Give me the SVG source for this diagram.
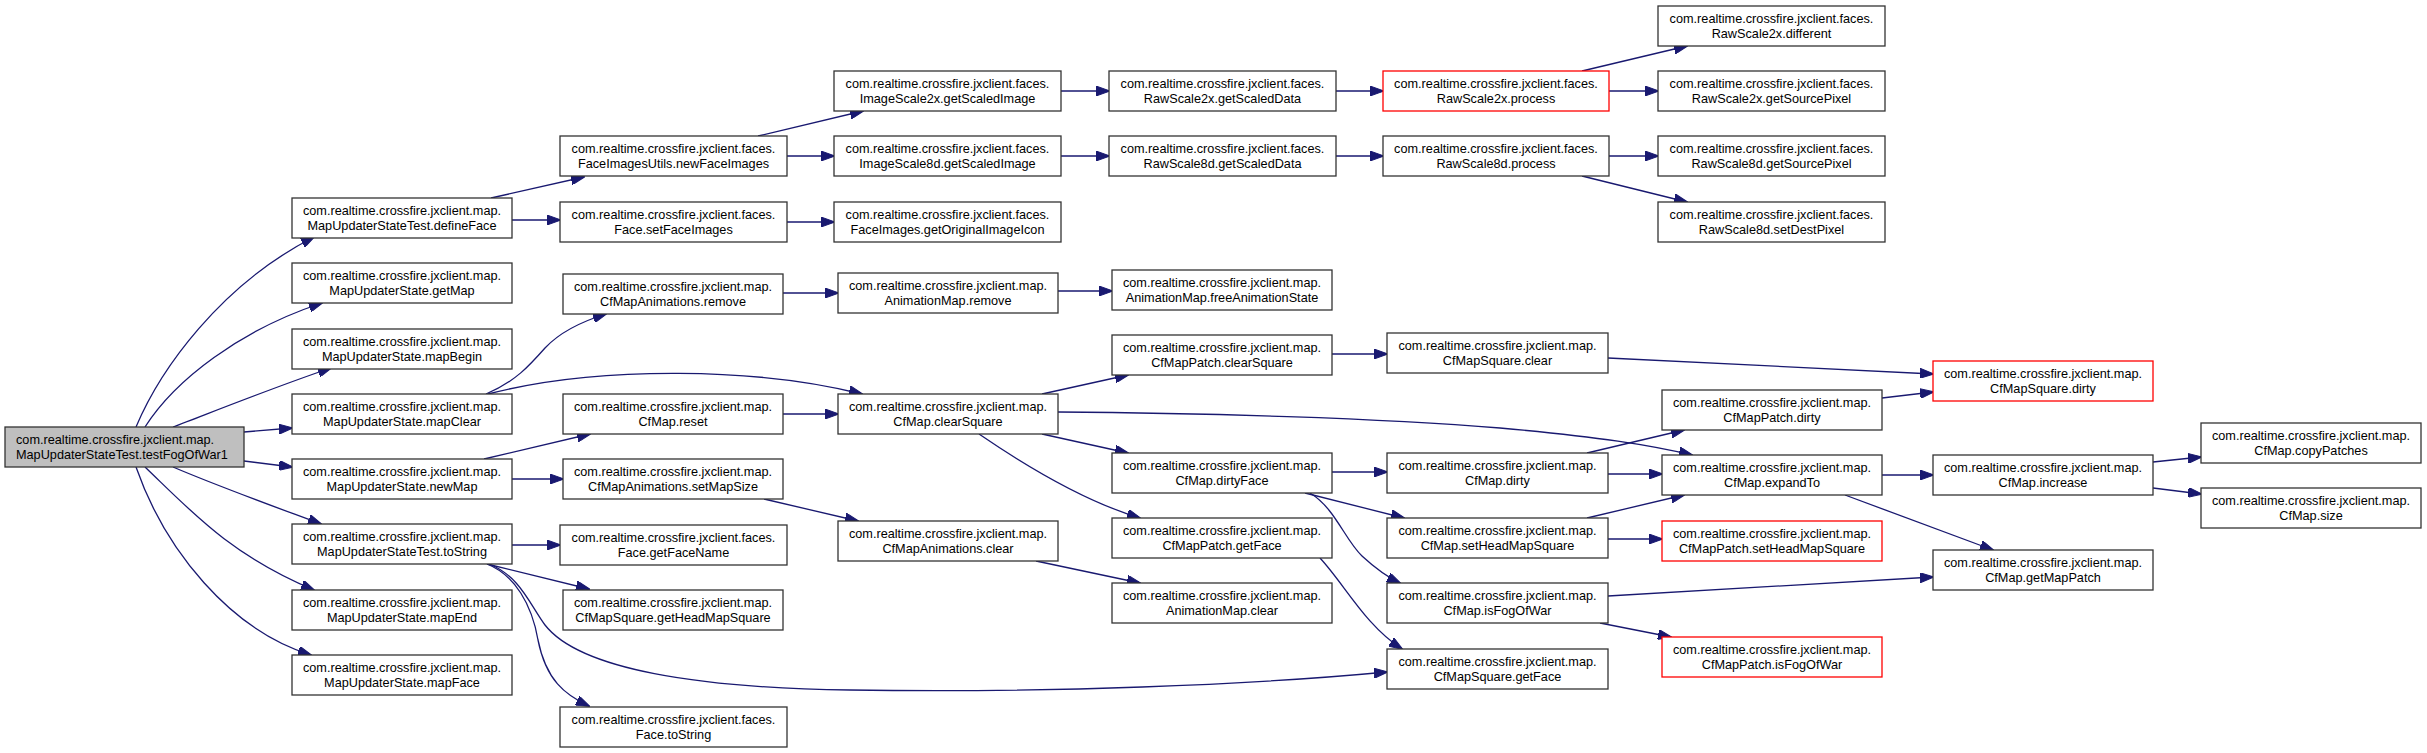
<svg xmlns="http://www.w3.org/2000/svg" width="2427" height="753" viewBox="0 0 2427 753">
<defs>
<style>
.n rect{fill:#fff;stroke:#333;stroke-width:1.3}
.n.r rect{stroke:#ff0000}
.n.root rect{fill:#bfbfbf}
.n text{font-family:"Liberation Sans",Arial,sans-serif;font-size:12.7px;fill:#000;text-anchor:middle}
.n.root text{text-anchor:start}
.e path{fill:none;stroke:#191970;stroke-width:1.3;marker-end:url(#a)}
</style>
<marker id="a" markerUnits="userSpaceOnUse" markerWidth="14" markerHeight="10" viewBox="0 0 14 10" refX="13" refY="5" orient="auto"><path d="M0,0 L14,5 L0,10 z" fill="#191970" stroke="#191970" stroke-width="1"/></marker>
</defs>
<rect width="2427" height="753" fill="#fff"/>
<g class="e" id="edges">
<path d="M136,427 C160,370 220,285 314,237"/>
<path d="M145,427 C175,380 240,330 322,303"/>
<path d="M173,427 C215,411 280,385 331,368"/>
<path d="M244,432 L292,428"/>
<path d="M244,461 L292,467"/>
<path d="M173,467 C220,487 270,505 321,524"/>
<path d="M145,467 C190,510 230,555 314,590"/>
<path d="M136,467 C165,550 230,630 311,655"/>
<path d="M491,198 L584,177"/>
<path d="M512,220 L560,220"/>
<path d="M486,394 C515,382 530,365 545,348 C560,332 580,322 606,314"/>
<path d="M488,394 C600,365 760,368 862,394"/>
<path d="M484,459 L590,434"/>
<path d="M512,479 L563,479"/>
<path d="M512,545 L560,545"/>
<path d="M487,564 L589,589"/>
<path d="M487,564 C515,575 532,605 538,640 C546,680 565,695 589,706"/>
<path d="M489,564 C520,576 530,605 545,625 C580,670 700,688 850,690 C1050,693 1250,685 1387,672"/>
<path d="M758,136 L863,111"/>
<path d="M787,156 L834,156"/>
<path d="M787,222 L834,222"/>
<path d="M783,293 L838,293"/>
<path d="M783,414 L838,414"/>
<path d="M764,499 L858,521"/>
<path d="M1061,91 L1109,91"/>
<path d="M1061,156 L1109,156"/>
<path d="M1058,291 L1112,291"/>
<path d="M1042,394 L1128,375"/>
<path d="M1058,412 C1200,413 1380,418 1500,428 C1600,437 1650,445 1692,455"/>
<path d="M1042,434 L1128,453"/>
<path d="M979,434 C1020,462 1080,500 1140,518"/>
<path d="M1036,561 L1140,583"/>
<path d="M1336,91 L1383,91"/>
<path d="M1336,156 L1383,156"/>
<path d="M1332,354 L1387,354"/>
<path d="M1332,472 L1387,472"/>
<path d="M1305,493 L1404,518"/>
<path d="M1310,493 C1335,508 1345,540 1362,556 C1375,568 1385,576 1400,583"/>
<path d="M1320,558 C1345,585 1365,625 1402,649"/>
<path d="M1582,71 L1687,46"/>
<path d="M1609,91 L1658,91"/>
<path d="M1609,156 L1658,156"/>
<path d="M1582,176 L1687,202"/>
<path d="M1608,358 L1933,374"/>
<path d="M1587,453 L1684,430"/>
<path d="M1608,474 L1662,474"/>
<path d="M1587,518 L1684,495"/>
<path d="M1608,539 L1662,539"/>
<path d="M1608,596 L1933,577"/>
<path d="M1600,623 L1671,637"/>
<path d="M1882,398 L1933,392"/>
<path d="M1882,475 L1933,475"/>
<path d="M1845,495 L1993,550"/>
<path d="M2153,462 L2201,457"/>
<path d="M2153,488 L2201,494"/>
</g>
<g class="n root" id="n0"><rect x="5" y="427" width="239" height="40"/><text x="16" y="443.5">com.realtime.crossfire.jxclient.map.</text><text x="16" y="458.5">MapUpdaterStateTest.testFogOfWar1</text></g>
<g class="n" id="n1"><rect x="292" y="198" width="220" height="40"/><text x="402" y="214.5">com.realtime.crossfire.jxclient.map.</text><text x="402" y="229.5">MapUpdaterStateTest.defineFace</text></g>
<g class="n" id="n2"><rect x="292" y="263" width="220" height="40"/><text x="402" y="279.5">com.realtime.crossfire.jxclient.map.</text><text x="402" y="294.5">MapUpdaterState.getMap</text></g>
<g class="n" id="n3"><rect x="292" y="329" width="220" height="40"/><text x="402" y="345.5">com.realtime.crossfire.jxclient.map.</text><text x="402" y="360.5">MapUpdaterState.mapBegin</text></g>
<g class="n" id="n4"><rect x="292" y="394" width="220" height="40"/><text x="402" y="410.5">com.realtime.crossfire.jxclient.map.</text><text x="402" y="425.5">MapUpdaterState.mapClear</text></g>
<g class="n" id="n5"><rect x="292" y="459" width="220" height="40"/><text x="402" y="475.5">com.realtime.crossfire.jxclient.map.</text><text x="402" y="490.5">MapUpdaterState.newMap</text></g>
<g class="n" id="n6"><rect x="292" y="524" width="220" height="40"/><text x="402" y="540.5">com.realtime.crossfire.jxclient.map.</text><text x="402" y="555.5">MapUpdaterStateTest.toString</text></g>
<g class="n" id="n7"><rect x="292" y="590" width="220" height="40"/><text x="402" y="606.5">com.realtime.crossfire.jxclient.map.</text><text x="402" y="621.5">MapUpdaterState.mapEnd</text></g>
<g class="n" id="n8"><rect x="292" y="655" width="220" height="40"/><text x="402" y="671.5">com.realtime.crossfire.jxclient.map.</text><text x="402" y="686.5">MapUpdaterState.mapFace</text></g>
<g class="n" id="n9"><rect x="560" y="136" width="227" height="40"/><text x="673.5" y="152.5">com.realtime.crossfire.jxclient.faces.</text><text x="673.5" y="167.5">FaceImagesUtils.newFaceImages</text></g>
<g class="n" id="n10"><rect x="560" y="202" width="227" height="40"/><text x="673.5" y="218.5">com.realtime.crossfire.jxclient.faces.</text><text x="673.5" y="233.5">Face.setFaceImages</text></g>
<g class="n" id="n11"><rect x="563" y="274" width="220" height="40"/><text x="673" y="290.5">com.realtime.crossfire.jxclient.map.</text><text x="673" y="305.5">CfMapAnimations.remove</text></g>
<g class="n" id="n12"><rect x="563" y="394" width="220" height="40"/><text x="673" y="410.5">com.realtime.crossfire.jxclient.map.</text><text x="673" y="425.5">CfMap.reset</text></g>
<g class="n" id="n13"><rect x="563" y="459" width="220" height="40"/><text x="673" y="475.5">com.realtime.crossfire.jxclient.map.</text><text x="673" y="490.5">CfMapAnimations.setMapSize</text></g>
<g class="n" id="n14"><rect x="560" y="525" width="227" height="40"/><text x="673.5" y="541.5">com.realtime.crossfire.jxclient.faces.</text><text x="673.5" y="556.5">Face.getFaceName</text></g>
<g class="n" id="n15"><rect x="563" y="590" width="220" height="40"/><text x="673" y="606.5">com.realtime.crossfire.jxclient.map.</text><text x="673" y="621.5">CfMapSquare.getHeadMapSquare</text></g>
<g class="n" id="n16"><rect x="560" y="707" width="227" height="40"/><text x="673.5" y="723.5">com.realtime.crossfire.jxclient.faces.</text><text x="673.5" y="738.5">Face.toString</text></g>
<g class="n" id="n17"><rect x="834" y="71" width="227" height="40"/><text x="947.5" y="87.5">com.realtime.crossfire.jxclient.faces.</text><text x="947.5" y="102.5">ImageScale2x.getScaledImage</text></g>
<g class="n" id="n18"><rect x="834" y="136" width="227" height="40"/><text x="947.5" y="152.5">com.realtime.crossfire.jxclient.faces.</text><text x="947.5" y="167.5">ImageScale8d.getScaledImage</text></g>
<g class="n" id="n19"><rect x="834" y="202" width="227" height="40"/><text x="947.5" y="218.5">com.realtime.crossfire.jxclient.faces.</text><text x="947.5" y="233.5">FaceImages.getOriginalImageIcon</text></g>
<g class="n" id="n20"><rect x="838" y="273" width="220" height="40"/><text x="948" y="289.5">com.realtime.crossfire.jxclient.map.</text><text x="948" y="304.5">AnimationMap.remove</text></g>
<g class="n" id="n21"><rect x="838" y="394" width="220" height="40"/><text x="948" y="410.5">com.realtime.crossfire.jxclient.map.</text><text x="948" y="425.5">CfMap.clearSquare</text></g>
<g class="n" id="n22"><rect x="838" y="521" width="220" height="40"/><text x="948" y="537.5">com.realtime.crossfire.jxclient.map.</text><text x="948" y="552.5">CfMapAnimations.clear</text></g>
<g class="n" id="n23"><rect x="1109" y="71" width="227" height="40"/><text x="1222.5" y="87.5">com.realtime.crossfire.jxclient.faces.</text><text x="1222.5" y="102.5">RawScale2x.getScaledData</text></g>
<g class="n" id="n24"><rect x="1109" y="136" width="227" height="40"/><text x="1222.5" y="152.5">com.realtime.crossfire.jxclient.faces.</text><text x="1222.5" y="167.5">RawScale8d.getScaledData</text></g>
<g class="n" id="n25"><rect x="1112" y="270" width="220" height="40"/><text x="1222" y="286.5">com.realtime.crossfire.jxclient.map.</text><text x="1222" y="301.5">AnimationMap.freeAnimationState</text></g>
<g class="n" id="n26"><rect x="1112" y="335" width="220" height="40"/><text x="1222" y="351.5">com.realtime.crossfire.jxclient.map.</text><text x="1222" y="366.5">CfMapPatch.clearSquare</text></g>
<g class="n" id="n27"><rect x="1112" y="453" width="220" height="40"/><text x="1222" y="469.5">com.realtime.crossfire.jxclient.map.</text><text x="1222" y="484.5">CfMap.dirtyFace</text></g>
<g class="n" id="n28"><rect x="1112" y="518" width="220" height="40"/><text x="1222" y="534.5">com.realtime.crossfire.jxclient.map.</text><text x="1222" y="549.5">CfMapPatch.getFace</text></g>
<g class="n" id="n29"><rect x="1112" y="583" width="220" height="40"/><text x="1222" y="599.5">com.realtime.crossfire.jxclient.map.</text><text x="1222" y="614.5">AnimationMap.clear</text></g>
<g class="n r" id="n30"><rect x="1383" y="71" width="226" height="40"/><text x="1496" y="87.5">com.realtime.crossfire.jxclient.faces.</text><text x="1496" y="102.5">RawScale2x.process</text></g>
<g class="n" id="n31"><rect x="1383" y="136" width="226" height="40"/><text x="1496" y="152.5">com.realtime.crossfire.jxclient.faces.</text><text x="1496" y="167.5">RawScale8d.process</text></g>
<g class="n" id="n32"><rect x="1387" y="333" width="221" height="40"/><text x="1497.5" y="349.5">com.realtime.crossfire.jxclient.map.</text><text x="1497.5" y="364.5">CfMapSquare.clear</text></g>
<g class="n" id="n33"><rect x="1387" y="453" width="221" height="40"/><text x="1497.5" y="469.5">com.realtime.crossfire.jxclient.map.</text><text x="1497.5" y="484.5">CfMap.dirty</text></g>
<g class="n" id="n34"><rect x="1387" y="518" width="221" height="40"/><text x="1497.5" y="534.5">com.realtime.crossfire.jxclient.map.</text><text x="1497.5" y="549.5">CfMap.setHeadMapSquare</text></g>
<g class="n" id="n35"><rect x="1387" y="583" width="221" height="40"/><text x="1497.5" y="599.5">com.realtime.crossfire.jxclient.map.</text><text x="1497.5" y="614.5">CfMap.isFogOfWar</text></g>
<g class="n" id="n36"><rect x="1387" y="649" width="221" height="40"/><text x="1497.5" y="665.5">com.realtime.crossfire.jxclient.map.</text><text x="1497.5" y="680.5">CfMapSquare.getFace</text></g>
<g class="n" id="n37"><rect x="1658" y="6" width="227" height="40"/><text x="1771.5" y="22.5">com.realtime.crossfire.jxclient.faces.</text><text x="1771.5" y="37.5">RawScale2x.different</text></g>
<g class="n" id="n38"><rect x="1658" y="71" width="227" height="40"/><text x="1771.5" y="87.5">com.realtime.crossfire.jxclient.faces.</text><text x="1771.5" y="102.5">RawScale2x.getSourcePixel</text></g>
<g class="n" id="n39"><rect x="1658" y="136" width="227" height="40"/><text x="1771.5" y="152.5">com.realtime.crossfire.jxclient.faces.</text><text x="1771.5" y="167.5">RawScale8d.getSourcePixel</text></g>
<g class="n" id="n40"><rect x="1658" y="202" width="227" height="40"/><text x="1771.5" y="218.5">com.realtime.crossfire.jxclient.faces.</text><text x="1771.5" y="233.5">RawScale8d.setDestPixel</text></g>
<g class="n" id="n41"><rect x="1662" y="390" width="220" height="40"/><text x="1772" y="406.5">com.realtime.crossfire.jxclient.map.</text><text x="1772" y="421.5">CfMapPatch.dirty</text></g>
<g class="n" id="n42"><rect x="1662" y="455" width="220" height="40"/><text x="1772" y="471.5">com.realtime.crossfire.jxclient.map.</text><text x="1772" y="486.5">CfMap.expandTo</text></g>
<g class="n r" id="n43"><rect x="1662" y="521" width="220" height="40"/><text x="1772" y="537.5">com.realtime.crossfire.jxclient.map.</text><text x="1772" y="552.5">CfMapPatch.setHeadMapSquare</text></g>
<g class="n r" id="n44"><rect x="1662" y="637" width="220" height="40"/><text x="1772" y="653.5">com.realtime.crossfire.jxclient.map.</text><text x="1772" y="668.5">CfMapPatch.isFogOfWar</text></g>
<g class="n r" id="n45"><rect x="1933" y="361" width="220" height="40"/><text x="2043" y="377.5">com.realtime.crossfire.jxclient.map.</text><text x="2043" y="392.5">CfMapSquare.dirty</text></g>
<g class="n" id="n46"><rect x="1933" y="455" width="220" height="40"/><text x="2043" y="471.5">com.realtime.crossfire.jxclient.map.</text><text x="2043" y="486.5">CfMap.increase</text></g>
<g class="n" id="n47"><rect x="1933" y="550" width="220" height="40"/><text x="2043" y="566.5">com.realtime.crossfire.jxclient.map.</text><text x="2043" y="581.5">CfMap.getMapPatch</text></g>
<g class="n" id="n48"><rect x="2201" y="423" width="220" height="40"/><text x="2311" y="439.5">com.realtime.crossfire.jxclient.map.</text><text x="2311" y="454.5">CfMap.copyPatches</text></g>
<g class="n" id="n49"><rect x="2201" y="488" width="220" height="40"/><text x="2311" y="504.5">com.realtime.crossfire.jxclient.map.</text><text x="2311" y="519.5">CfMap.size</text></g>
</svg>
